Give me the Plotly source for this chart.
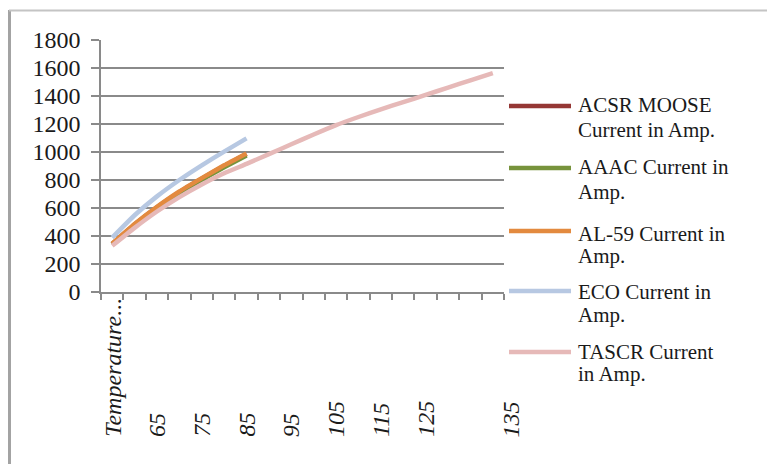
import plotly.graph_objects as go

# Conductor temperature categories (first row carries the column header text)
categories = ["Temperature...", "60", "65", "70", "75", "80", "85", "90", "95",
              "100", "105", "110", "115", "120", "125", "130", "135", "140"]

# Current-carrying capacity in amperes for each conductor type
acsr_moose = [343, 482, 605, 714, 810, 900, 985]
aaac = [340, 478, 600, 708, 802, 890, 975]
al59 = [345, 485, 608, 718, 813, 905, 990]
eco = [388, 548, 683, 800, 905, 1003, 1097]
tascr = [330, 458, 575, 678, 768, 848, 915, 985, 1055, 1125, 1192, 1250,
         1305, 1356, 1408, 1460, 1512, 1563]

series_names = [
    ["ACSR MOOSE", "Current in Amp."],
    ["AAAC Current in", "Amp."],
    ["AL-59 Current in", "Amp."],
    ["ECO Current in", "Amp."],
    ["TASCR Current", "in Amp."],
]
series_values = [acsr_moose, aaac, al59, eco, tascr]
series_colors = ["#953735", "#77933C", "#E38A3F", "#B7C8E2", "#E6B9B8"]

# x-axis labels shown on every other category
x_labels = categories[::2]

W, H = 767, 464
ML, MR, MT, MB = 101, 263, 40, 172
PW, PH = W - ML - MR, H - MT - MB


def px_x(p):
    return (p - ML) / PW


def px_y(p):
    return (H - MB - p) / PH


fig = go.Figure()
for vals, color in zip(series_values, series_colors):
    fig.add_trace(go.Scatter(
        x=categories[:len(vals)], y=vals, mode="lines",
        line=dict(color=color, width=4.5, shape="spline", smoothing=0.4),
        showlegend=False, hoverinfo="x+y",
    ))

serif = "Liberation Serif, Times New Roman, serif"
annotations = []

# Rotated category labels, aligned at their starting edge
for lab in x_labels:
    annotations.append(dict(
        x=categories.index(lab), xref="x", y=px_y(439), yref="paper",
        text=f"<i>{lab}</i>", textangle=-90, showarrow=False,
        xanchor="center", yanchor="bottom",
        xshift=41 if lab == "135" else 0,
        font=dict(family=serif, size=24, color="#1a1a1a"),
    ))

# Legend drawn beside the plot area
legend_rows = [(106, [105, 130]), (168, [167, 192]), (231, [234, 256]),
               (291, [292, 315]), (352, [352, 374])]
shapes = []
for (line_y, text_ys), name, color in zip(legend_rows, series_names, series_colors):
    shapes.append(dict(type="line", xref="paper", yref="paper",
                       x0=px_x(509), x1=px_x(571), y0=px_y(line_y), y1=px_y(line_y),
                       line=dict(color=color, width=4.5)))
    for txt, ty in zip(name, text_ys):
        annotations.append(dict(
            x=px_x(576), xref="paper", y=px_y(ty), yref="paper",
            text=txt, showarrow=False, xanchor="left", yanchor="middle",
            font=dict(family=serif, size=21, color="#1a1a1a"),
        ))

# Chart frame
shapes.append(dict(type="line", xref="paper", yref="paper",
                   x0=px_x(9.5), x1=px_x(9.5), y0=px_y(10), y1=px_y(H + 5),
                   line=dict(color="#a3a3a3", width=3)))
shapes.append(dict(type="line", xref="paper", yref="paper",
                   x0=px_x(9), x1=px_x(W + 2), y0=px_y(10.5), y1=px_y(10.5),
                   line=dict(color="#c4c4c4", width=2)))

fig.update_layout(
    width=W, height=H,
    margin=dict(l=ML, r=MR, t=MT, b=MB, pad=0),
    paper_bgcolor="white", plot_bgcolor="white",
    annotations=annotations, shapes=shapes,
    xaxis=dict(
        type="category", categoryorder="array", categoryarray=categories,
        range=[-0.5, len(categories) - 0.5],
        tickson="boundaries", ticks="outside", ticklen=6, tickwidth=1.5,
        tickcolor="#8a8a8a", showticklabels=False,
        showgrid=False, showline=True, linecolor="#8a8a8a", linewidth=1.5,
        zeroline=False,
    ),
    yaxis=dict(
        range=[0, 1800], dtick=200, tick0=0,
        ticks="outside", ticklen=8, tickwidth=1.5, tickcolor="#8a8a8a",
        ticklabelstandoff=6,
        tickfont=dict(family=serif, size=24, color="#1a1a1a"),
        showgrid=True, gridcolor="#8a8a8a", gridwidth=1.5,
        showline=True, linecolor="#8a8a8a", linewidth=1.5,
        zeroline=False,
    ),
)

fig.write_html("out.html")
